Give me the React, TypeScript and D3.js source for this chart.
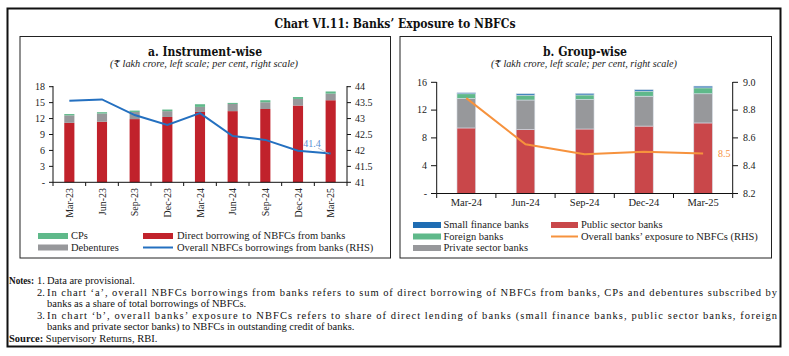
import React from "react";
import * as d3 from "d3";

// ---- Data: chart a ----
const catsA = ["Mar-23", "Jun-23", "Sep-23", "Dec-23", "Mar-24", "Jun-24", "Sep-24", "Dec-24", "Mar-25"];
const directA = [11.2, 11.4, 11.9, 12.3, 13.25, 13.4, 13.8, 14.45, 15.45];
const debenturesA = [1.4, 1.55, 1.35, 1.1, 0.95, 1.35, 1.27, 1.25, 1.25];
const cpsA = [0.25, 0.25, 0.25, 0.3, 0.5, 0.2, 0.38, 0.35, 0.4];
const overallA = [43.56, 43.6, 43.11, 42.8, 43.17, 42.45, 42.33, 41.99, 41.9];
const leftTicksA = [0, 3, 6, 9, 12, 15, 18];
const rightTicksA = [41, 41.5, 42, 42.5, 43, 43.5, 44];

// ---- Data: chart b ----
const catsB = ["Mar-24", "Jun-24", "Sep-24", "Dec-24", "Mar-25"];
const publicB = [9.43, 9.2, 9.28, 9.7, 10.15];
const privateB = [4.25, 4.25, 4.25, 4.3, 4.2];
const foreignB = [0.67, 0.7, 0.65, 0.73, 0.85];
const sfbB = [0.15, 0.2, 0.22, 0.2, 0.25];
const overallB = [8.886, 8.554, 8.482, 8.5, 8.487];
const leftTicksB = [0, 4, 8, 12, 16];
const rightTicksB = [8.2, 8.4, 8.6, 8.8, 9.0];

const FONT = "'Liberation Serif', 'DejaVu Serif', serif";
const TFONT = "'DejaVu Serif', 'Liberation Serif', serif";
const RED_A = "#c1222b";
const RED_B = "#c9474a";
const GRAY = "#97989b";
const GREEN = "#5fb98a";
const BLUE = "#2470c0";
const SFB = "#1f6db3";
const ORANGE = "#f6923d";

function StackedBars({ x, y, cats, series, colors, bwFrac, stroke }) {
  const step = x.step();
  const bw = step * bwFrac;
  const rects = [];
  cats.forEach((c, i) => {
    let acc = 0;
    series.forEach((s, k) => {
      const v0 = acc;
      const v1 = acc + s[i];
      acc = v1;
      rects.push(
        <rect
          key={c + k}
          x={x(c) + (step - bw) / 2}
          y={y(v1)}
          width={bw}
          height={y(v0) - y(v1)}
          fill={colors[k]}
          stroke={stroke}
          strokeWidth={stroke ? 0.6 : 0}
        />
      );
    });
  });
  return <g>{rects}</g>;
}

export default function App() {
  // chart a
  const xA = d3.scaleBand().domain(catsA).range([53, 347]).padding(0);
  const yA = d3.scaleLinear().domain([0, 18]).range([182.3, 86.7]);
  const yA2 = d3.scaleLinear().domain([41, 44]).range([182.3, 86.7]);
  const cxA = (c) => xA(c) + xA.step() / 2;
  const lineA = d3.line().x((d, i) => cxA(catsA[i])).y((d) => yA2(d));

  // chart b
  const xB = d3.scaleBand().domain(catsB).range([436.7, 732.7]).padding(0);
  const yB = d3.scaleLinear().domain([0, 16]).range([193.5, 82.3]);
  const yB2 = d3.scaleLinear().domain([8.2, 9.0]).range([193.5, 82.3]);
  const cxB = (c) => xB(c) + xB.step() / 2;
  const lineB = d3.line().x((d, i) => cxB(catsB[i])).y((d) => yB2(d));

  const tick = { fontFamily: FONT, fontSize: 10, fill: "#222" };
  const lastA = overallA[overallA.length - 1];
  const lastB = overallB[overallB.length - 1];

  return (
    <svg width={789} height={356} style={{ position: "absolute", left: 0, top: 0, background: "#fff" }} fontFamily={FONT}>
      <rect x={0} y={0} width={789} height={356} fill="#fff" />
      {/* outer frame */}
      <rect x={7.5} y={8.5} width={773} height={338} fill="none" stroke="#111" strokeWidth={2} />
      <text x={395} y={28} textAnchor="middle" fontWeight="bold" fontSize={12.5} fill="#111" fontFamily={TFONT} textLength={241} lengthAdjust="spacingAndGlyphs">
        Chart VI.11: Banks’ Exposure to NBFCs
      </text>

      {/* panel a */}
      <rect x={20} y={36.5} width={370.5} height={221.5} fill="none" stroke="#222" strokeWidth={1} />
      <text x={205} y={56} textAnchor="middle" fontWeight="bold" fontSize={13} fill="#111" fontFamily={TFONT} textLength={114} lengthAdjust="spacingAndGlyphs">a. Instrument-wise</text>
      <text x={204} y={66.5} textAnchor="middle" fontStyle="italic" fontSize={9.5} fill="#222" textLength={188} lengthAdjust="spacingAndGlyphs">
        (₹ lakh crore, left scale; per cent, right scale)
      </text>
      <StackedBars x={xA} y={yA} cats={catsA} series={[directA, debenturesA, cpsA]} colors={[RED_A, GRAY, GREEN]} bwFrac={0.31} />
      <path d={lineA(overallA)} fill="none" stroke={BLUE} strokeWidth={2} />
      <line x1={318} y1={148} x2={cxA(catsA[8]) - 2} y2={yA2(lastA)} stroke="#aab" strokeWidth={0.8} />
      <text x={312} y={147} textAnchor="middle" fontSize={10} fill="#5a8fd2">41.4</text>
      {/* axes a */}
      <line x1={53} y1={86} x2={53} y2={182.3} stroke="#111" />
      <line x1={347} y1={86} x2={347} y2={182.3} stroke="#111" />
      <line x1={53} y1={182.3} x2={347} y2={182.3} stroke="#111" />
      {leftTicksA.map((t) => (
        <g key={"la" + t}>
          <line x1={49} x2={53} y1={yA(t)} y2={yA(t)} stroke="#111" />
          <text x={45} y={yA(t)} dy="0.33em" textAnchor="end" {...tick}>{t === 0 ? "-" : t}</text>
        </g>
      ))}
      {rightTicksA.map((t) => (
        <g key={"ra" + t}>
          <line x1={347} x2={351} y1={yA2(t)} y2={yA2(t)} stroke="#111" />
          <text x={355} y={yA2(t)} dy="0.33em" textAnchor="start" {...tick}>{t}</text>
        </g>
      ))}
      {catsA.map((c, i) => (
        <g key={"xa" + c}>
          <line x1={xA(c)} x2={xA(c)} y1={182.3} y2={186} stroke="#111" />
          {i === catsA.length - 1 && <line x1={347} x2={347} y1={182.3} y2={186} stroke="#111" />}
          <text transform={`translate(${cxA(c) + 3.5},188) rotate(-90)`} textAnchor="end" {...tick}>{c}</text>
        </g>
      ))}
      {/* legend a */}
      <rect x={38} y={233} width={30} height={6} fill={GREEN} />
      <text x={71} y={239} fontSize={10.5} fill="#222">CPs</text>
      <rect x={38} y={244.5} width={30} height={6} fill={GRAY} />
      <text x={71} y={250.5} fontSize={10.5} fill="#222">Debentures</text>
      <rect x={143} y={233} width={30} height={6} fill={RED_A} />
      <text x={177} y={239} fontSize={10.5} fill="#222">Direct borrowing of NBFCs from banks</text>
      <line x1={143} x2={173} y1={247.5} y2={247.5} stroke={BLUE} strokeWidth={2} />
      <text x={177} y={250.5} fontSize={10.5} fill="#222">Overall NBFCs borrowings from banks (RHS)</text>

      {/* panel b */}
      <rect x={400} y={36.5} width={371.5} height={221.5} fill="none" stroke="#222" strokeWidth={1} />
      <text x={585} y={56} textAnchor="middle" fontWeight="bold" fontSize={13} fill="#111" fontFamily={TFONT} textLength={84} lengthAdjust="spacingAndGlyphs">b. Group-wise</text>
      <text x={584} y={66.5} textAnchor="middle" fontStyle="italic" fontSize={9.5} fill="#222" textLength={186} lengthAdjust="spacingAndGlyphs">
        (₹ lakh crore, left scale; per cent, right scale)
      </text>
      <StackedBars x={xB} y={yB} cats={catsB} series={[publicB, privateB, foreignB, sfbB]} colors={[RED_B, GRAY, GREEN, SFB]} bwFrac={0.315} stroke="#d6dde6" />
      <path d={lineB(overallB)} fill="none" stroke={ORANGE} strokeWidth={2} />
      <text x={718} y={yB2(lastB)} dy="0.35em" fontSize={10} fill={ORANGE}>8.5</text>
      <line x1={436.7} y1={82} x2={436.7} y2={193.5} stroke="#111" />
      <line x1={732.7} y1={82} x2={732.7} y2={193.5} stroke="#111" />
      <line x1={436.7} y1={193.5} x2={732.7} y2={193.5} stroke="#111" />
      {leftTicksB.map((t) => (
        <g key={"lb" + t}>
          <line x1={431} x2={436.7} y1={yB(t)} y2={yB(t)} stroke="#111" />
          <text x={427} y={yB(t)} dy="0.33em" textAnchor="end" {...tick}>{t === 0 ? "-" : t}</text>
        </g>
      ))}
      {rightTicksB.map((t) => (
        <g key={"rb" + t}>
          <line x1={732.7} x2={738} y1={yB2(t)} y2={yB2(t)} stroke="#111" />
          <text x={743} y={yB2(t)} dy="0.33em" textAnchor="start" {...tick}>{t.toFixed(1)}</text>
        </g>
      ))}
      {catsB.map((c, i) => (
        <g key={"xb" + c}>
          <line x1={xB(c)} x2={xB(c)} y1={193.5} y2={198} stroke="#111" />
          {i === catsB.length - 1 && <line x1={732.7} x2={732.7} y1={193.5} y2={198} stroke="#111" />}
          <text x={cxB(c)} y={205.5} textAnchor="middle" {...tick} fontSize={10.5}>{c}</text>
        </g>
      ))}
      {/* legend b */}
      <rect x={413} y={222} width={28} height={6} fill={SFB} />
      <text x={443.5} y={228} fontSize={10.5} fill="#222">Small finance banks</text>
      <rect x={413} y={233.5} width={28} height={6} fill={GREEN} />
      <text x={443.5} y={239.5} fontSize={10.5} fill="#222">Foreign banks</text>
      <rect x={413} y={245} width={28} height={6} fill={GRAY} />
      <text x={443.5} y={251} fontSize={10.5} fill="#222">Private sector banks</text>
      <rect x={551} y={222} width={27} height={6} fill={RED_B} />
      <text x={581} y={228} fontSize={10.5} fill="#222">Public sector banks</text>
      <line x1={551} x2={578} y1={236.5} y2={236.5} stroke={ORANGE} strokeWidth={2} />
      <text x={581} y={239.5} fontSize={10.5} fill="#222">Overall banks’ exposure to NBFCs (RHS)</text>

      {/* notes */}
      <g fontSize={10.5} fill="#111">
        <text x={9} y={284} fontWeight="bold" textLength={25} lengthAdjust="spacingAndGlyphs">Notes:</text>
        <text x={37} y={284}>1.</text>
        <text x={47} y={284}>Data are provisional.</text>
        <text x={37} y={295.5}>2.</text>
        <text x={47} y={295.5} textLength={730} lengthAdjust="spacing">In chart ‘a’, overall NBFCs borrowings from banks refers to sum of direct borrowing of NBFCs from banks, CPs and debentures subscribed by</text>
        <text x={47} y={307}>banks as a share of total borrowings of NBFCs.</text>
        <text x={37} y={318.5}>3.</text>
        <text x={47} y={318.5} textLength={730} lengthAdjust="spacing">In chart ‘b’, overall banks’ exposure to NBFCs refers to share of direct lending of banks (small finance banks, public sector banks, foreign</text>
        <text x={47} y={330}>banks and private sector banks) to NBFCs in outstanding credit of banks.</text>
        <text x={9} y={341.5}>
          <tspan fontWeight="bold">Source:</tspan> Supervisory Returns, RBI.
        </text>
      </g>
    </svg>
  );
}
